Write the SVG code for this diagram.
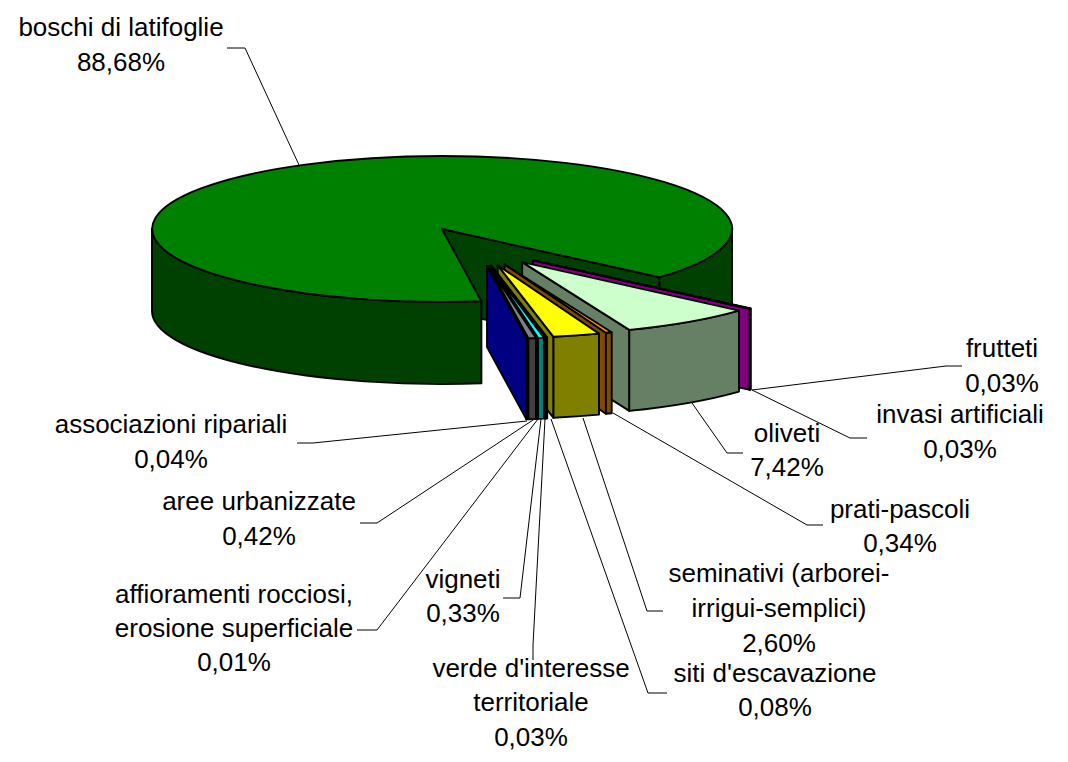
<svg xmlns="http://www.w3.org/2000/svg" width="1068" height="762" viewBox="0 0 1068 762">
<style>
.f{stroke:#000;stroke-width:1.9;stroke-linejoin:round}
.t{font-family:"Liberation Sans",Arial,sans-serif;font-size:26px;fill:#000;text-anchor:middle}
.lead{stroke:#000;stroke-width:1;fill:none}
</style>
<rect width="1068" height="762" fill="#fff"/>
<g id="boschi">
<path class="f" fill="#004000" d="M442 229 L659.5 277.3 L659.5 358.3 L442 310 Z"/>
<path class="f" fill="#004000" d="M481.4 301.3 A290 73 0 0 1 152 229 L152 311 A290 73 0 0 0 481.4 383.3 Z"/>
<path class="f" fill="#004000" d="M732 229 A290 73 0 0 1 659.5 277.3 L659.5 358.3 A290 73 0 0 0 732 310 Z"/>
<path class="f" fill="#008000" d="M442 229 L481.4 301.3 A290 73 0 1 1 659.5 277.3 Z"/>
<text class="t" x="121" y="36">boschi di latifoglie</text>
<text class="t" x="121" y="71">88,68%</text>
</g>
<g id="frutteti">
<path class="f" fill="#800080" d="M533.2 260.2 L750.4 308.6 L750.4 389.6 L533.2 341.2 Z"/>
<path class="f" fill="#800080" d="M750.7 308.5 A290 73 0 0 1 750.4 308.6 L750.4 389.6 A290 73 0 0 0 750.7 389.5 Z"/>
<path class="f" fill="#FF00FF" d="M533.2 260.2 L750.7 308.5 A290 73 0 0 1 750.4 308.6 Z"/>
<text class="t" x="1002" y="357">frutteti</text>
<text class="t" x="1002" y="392">0,03%</text>
</g>
<g id="invasi">
<path class="f" fill="#800080" d="M532.9 260.3 L749.7 308.8 L749.7 389.8 L532.9 341.3 Z"/>
<path class="f" fill="#800080" d="M750.1 308.7 A290 73 0 0 1 749.7 308.8 L749.7 389.8 A290 73 0 0 0 750.1 389.7 Z"/>
<path class="f" fill="#FF00FF" d="M532.9 260.3 L750.1 308.7 A290 73 0 0 1 749.7 308.8 Z"/>
<text class="t" x="960" y="423">invasi artificiali</text>
<text class="t" x="960" y="458">0,03%</text>
</g>
<g id="oliveti">
<path class="f" fill="#668066" d="M522.2 262.1 L629.3 329.9 L629.3 410.9 L522.2 343.1 Z"/>
<path class="f" fill="#668066" d="M739 310.6 A290 73 0 0 1 629.3 329.9 L629.3 410.9 A290 73 0 0 0 739 391.6 Z"/>
<path class="f" fill="#CCFFCC" d="M522.2 262.1 L739 310.6 A290 73 0 0 1 629.3 329.9 Z"/>
<text class="t" x="787" y="442">oliveti</text>
<text class="t" x="787" y="476">7,42%</text>
</g>
<g id="prati">
<path class="f" fill="#804C00" d="M504.6 264.4 L605.9 332.8 L605.9 413.8 L504.6 345.4 Z"/>
<path class="f" fill="#804C00" d="M611.7 332.2 A290 73 0 0 1 605.9 332.8 L605.9 413.8 A290 73 0 0 0 611.7 413.2 Z"/>
<path class="f" fill="#FF9900" d="M504.6 264.4 L611.7 332.2 A290 73 0 0 1 605.9 332.8 Z"/>
<text class="t" x="900" y="518">prati-pascoli</text>
<text class="t" x="900" y="552">0,34%</text>
</g>
<g id="seminativi">
<path class="f" fill="#808000" d="M497.7 265.2 L553.5 336.8 L553.5 417.8 L497.7 346.2 Z"/>
<path class="f" fill="#808000" d="M599 333.6 A290 73 0 0 1 553.5 336.8 L553.5 417.8 A290 73 0 0 0 599 414.6 Z"/>
<path class="f" fill="#FFFF00" d="M497.7 265.2 L599 333.6 A290 73 0 0 1 553.5 336.8 Z"/>
<text class="t" x="779" y="582">seminativi (arborei-</text>
<text class="t" x="779" y="617">irrigui-semplici)</text>
<text class="t" x="779" y="652">2,60%</text>
</g>
<g id="siti">
<path class="f" fill="#006666" d="M491.4 265.8 L545.7 337.5 L545.7 418.5 L491.4 346.8 Z"/>
<path class="f" fill="#006666" d="M547.2 337.4 A290 73 0 0 1 545.7 337.5 L545.7 418.5 A290 73 0 0 0 547.2 418.4 Z"/>
<path class="f" fill="#00CCCC" d="M491.4 265.8 L547.2 337.4 A290 73 0 0 1 545.7 337.5 Z"/>
<text class="t" x="775" y="682">siti d'escavazione</text>
<text class="t" x="775" y="716">0,08%</text>
</g>
<g id="verde">
<path class="f" fill="#006666" d="M491.1 265.8 L544.9 337.5 L544.9 418.5 L491.1 346.8 Z"/>
<path class="f" fill="#006666" d="M545.4 337.5 A290 73 0 0 1 544.9 337.5 L544.9 418.5 A290 73 0 0 0 545.4 418.5 Z"/>
<path class="f" fill="#00CCCC" d="M491.1 265.8 L545.4 337.5 A290 73 0 0 1 544.9 337.5 Z"/>
<text class="t" x="531" y="677">verde d'interesse</text>
<text class="t" x="531" y="711">territoriale</text>
<text class="t" x="531" y="746">0,03%</text>
</g>
<g id="vigneti">
<path class="f" fill="#008080" d="M490.1 265.9 L538 337.9 L538 418.9 L490.1 346.9 Z"/>
<path class="f" fill="#008080" d="M543.9 337.6 A290 73 0 0 1 538 337.9 L538 418.9 A290 73 0 0 0 543.9 418.6 Z"/>
<path class="f" fill="#00FFFF" d="M490.1 265.9 L543.9 337.6 A290 73 0 0 1 538 337.9 Z"/>
<text class="t" x="463" y="588">vigneti</text>
<text class="t" x="463" y="622">0,33%</text>
</g>
<g id="affioramenti">
<path class="f" fill="#404040" d="M489.3 265.9 L537 337.9 L537 418.9 L489.3 346.9 Z"/>
<path class="f" fill="#404040" d="M537.2 337.9 A290 73 0 0 1 537 337.9 L537 418.9 A290 73 0 0 0 537.2 418.9 Z"/>
<path class="f" fill="#808080" d="M489.3 265.9 L537.2 337.9 A290 73 0 0 1 537 337.9 Z"/>
<text class="t" x="234" y="603">affioramenti rocciosi,</text>
<text class="t" x="234" y="637">erosione superficiale</text>
<text class="t" x="234" y="671">0,01%</text>
</g>
<g id="aree">
<path class="f" fill="#404040" d="M488.3 266 L528.4 338.3 L528.4 419.3 L488.3 347 Z"/>
<path class="f" fill="#404040" d="M536 338 A290 73 0 0 1 528.4 338.3 L528.4 419.3 A290 73 0 0 0 536 419 Z"/>
<path class="f" fill="#808080" d="M488.3 266 L536 338 A290 73 0 0 1 528.4 338.3 Z"/>
<text class="t" x="259" y="510">aree urbanizzate</text>
<text class="t" x="259" y="545">0,42%</text>
</g>
<g id="associazioni">
<path class="f" fill="#000080" d="M487 266.1 L526.4 338.4 L526.4 419.4 L487 347.1 Z"/>
<path class="f" fill="#000080" d="M527.1 338.4 A290 73 0 0 1 526.4 338.4 L526.4 419.4 A290 73 0 0 0 527.1 419.4 Z"/>
<path class="f" fill="#0000FF" d="M487 266.1 L527.1 338.4 A290 73 0 0 1 526.4 338.4 Z"/>
<text class="t" x="171" y="433">associazioni ripariali</text>
<text class="t" x="171" y="468">0,04%</text>
</g>
<g id="connectors">
<polyline class="lead" points="227,48 245,48 299,165"/>
<polyline class="lead" points="752,390 946,366 962,366"/>
<polyline class="lead" points="752,390 850,438 867,438"/>
<polyline class="lead" points="692,403 727,453 743,453"/>
<polyline class="lead" points="613,413 807,525 823,525"/>
<polyline class="lead" points="583,418 647,611 663,611"/>
<polyline class="lead" points="551,419 648,693 667,693"/>
<polyline class="lead" points="545,419 533,645 533,660"/>
<polyline class="lead" points="541,419 520,598 503,598"/>
<polyline class="lead" points="538,419 377,630 357,630"/>
<polyline class="lead" points="533,420 377,523 360,523"/>
<polyline class="lead" points="527,421 313,443 297,443"/>
</g>
</svg>
